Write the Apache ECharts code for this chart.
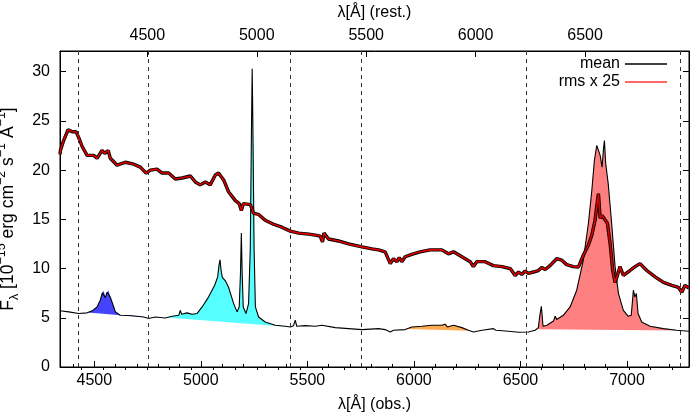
<!DOCTYPE html>
<html><head><meta charset="utf-8">
<script src="https://cdn.jsdelivr.net/npm/echarts@6/dist/echarts.min.js"></script>
<style>html,body{margin:0;padding:0;background:#fff}#c{width:692px;height:417px}</style>
</head><body><div id="c"></div>
<script>
// ---- data ----
const meanWave = [4339,4341,4380,4427,4466,4490,4513,4528,4538,4544,4552,4560,4567,4575,4583,4599,4622,4677,4732,4755,4786,4833,4865,4896,4904,4910,4915,4935,4959,4982,5006,5036,5065,5079,5085,5090,5095,5101,5115,5130,5154,5170,5180,5186,5190,5194,5199,5212,5224,5232,5238,5241,5244,5250,5256,5271,5302,5349,5396,5420,5435,5443,5450,5490,5537,5568,5575,5631,5693,5756,5834,5865,5889,5904,5959,5990,6037,6084,6131,6145,6151,6157,6186,6225,6256,6279,6320,6373,6385,6444,6491,6537,6569,6584,6590,6598,6606,6624,6655,6663,6670,6701,6733,6764,6795,6819,6835,6847,6858,6866,6874,6883,6889,6894,6900,6912,6928,6944,6960,6983,7006,7020,7030,7037,7044,7052,7069,7108,7171,7233,7291];
const meanFlux = [5.72,5.70,5.60,5.43,5.50,5.70,6.10,6.78,7.55,7.75,7.05,7.60,7.75,7.10,6.60,5.60,5.25,5.20,5.08,4.92,5.08,4.98,5.15,5.25,5.76,5.35,5.32,5.50,5.36,5.43,6.10,7.10,8.30,9.15,10.3,10.9,9.8,9.10,8.75,8.10,6.44,5.60,6.10,9.5,13.6,9.5,6.1,5.43,6.44,12.0,25.0,30.3,25.0,11.9,6.1,5.08,4.57,4.24,4.14,4.07,4.20,4.75,4.14,4.20,4.14,4.24,4.07,4.00,3.90,3.80,3.90,3.80,3.56,3.73,3.80,4.07,4.14,4.24,4.24,4.35,4.47,4.07,4.24,4.00,3.73,3.56,3.73,3.90,3.73,3.63,3.53,3.56,3.73,4.0,5.1,6.17,4.14,4.24,4.67,5.15,4.82,5.25,6.10,7.80,10.85,14.6,17.96,21.0,22.5,22.0,21.5,20.3,22.0,23.0,20.7,18.6,14.6,10.2,7.46,5.76,5.15,5.25,7.80,7.10,7.46,5.43,4.57,4.14,3.90,3.73,3.63];
const rmsWave = [4339,4341,4356,4377,4396,4414,4427,4443,4466,4497,4513,4536,4549,4565,4575,4607,4646,4685,4716,4743,4763,4794,4818,4849,4880,4912,4951,4974,4997,5021,5044,5068,5083,5107,5130,5162,5180,5190,5200,5209,5232,5248,5271,5302,5341,5380,5420,5459,5506,5537,5560,5571,5578,5599,5646,5693,5756,5803,5834,5865,5889,5904,5920,5931,5943,5959,5990,6029,6076,6131,6162,6186,6225,6264,6279,6295,6334,6373,6413,6452,6475,6491,6506,6522,6537,6561,6584,6600,6616,6639,6670,6694,6717,6748,6772,6795,6819,6835,6850,6858,6866,6874,6882,6892,6908,6921,6933,6944,6955,6967,6983,7014,7038,7061,7093,7132,7171,7210,7241,7257,7272,7291];
const rmsFlux = [21.6,22.0,23.0,24.1,23.9,23.9,23.3,22.4,21.5,21.5,21.2,22.0,21.7,22.0,21.2,20.5,20.8,20.6,20.3,19.7,20.0,20.1,19.7,19.7,19.1,19.2,19.4,18.8,18.5,18.8,18.5,19.5,19.7,19.0,17.8,16.9,16.6,15.9,16.6,16.6,16.5,15.6,15.5,14.9,14.5,14.2,13.8,13.6,13.5,13.4,13.3,12.7,13.6,13.0,12.8,12.5,12.2,12.0,11.9,11.7,10.5,11.0,10.7,11.1,10.7,11.2,11.45,11.7,11.9,11.9,11.5,11.7,11.2,10.7,10.2,10.7,10.7,10.3,10.2,10.0,9.3,9.65,9.4,9.75,9.5,9.65,9.8,10.1,9.9,10.3,11.0,10.85,10.4,10.2,10.15,11.35,12.4,13.4,14.9,16.3,17.6,15.1,15.4,15.1,14.6,12.5,9.8,8.6,9.3,10.2,9.3,9.8,10.2,10.5,9.8,9.15,8.6,8.3,8.1,7.6,8.3,8.0];
const markerWaves = [4424, 4755, 5420, 5755, 6529, 7251];
const fillStarts = [4470, 4840, 5965, 6575];
const fillEnds = [4735, 5420, 6262, 7250];
const obsTicks = [4500, 5000, 5500, 6000, 6500, 7000];
const restTicks = [4500, 5000, 5500, 6000, 6500];
const fluxTicks = [0, 5, 10, 15, 20, 25, 30];

// ---- ranges / styles ----
const OBS_MIN = 4339, OBS_MAX = 7291, REST_MIN = 4101, REST_MAX = 6975, Y_MAX = 32.1;
const fillColors = ['#4444ff', '#55ffff', '#ffaa55', '#ff8080'];
const FS = 16, FONT = 'Liberation Sans, Arial, sans-serif';

function minorList(lo, hi, step) { const a = []; for (let v = Math.ceil(lo / step) * step; v <= hi; v += step) a.push(v); return a; }
const obsMinor = minorList(OBS_MIN, OBS_MAX, 100);
const restMinor = minorList(REST_MIN, REST_MAX, 100);

const meanData = meanWave.map((w, i) => [w, meanFlux[i]]);
const rmsData = rmsWave.map((w, i) => [w, rmsFlux[i]]);

function interpMean(x) {
  for (let i = 1; i < meanWave.length; i++) {
    if (meanWave[i] >= x) {
      const t = (x - meanWave[i - 1]) / (meanWave[i] - meanWave[i - 1]);
      return meanFlux[i - 1] + t * (meanFlux[i] - meanFlux[i - 1]);
    }
  }
  return meanFlux[meanFlux.length - 1];
}
function regionPoints(i) {
  const s = fillStarts[i], e = fillEnds[i];
  const pts = [[s, interpMean(s)]];
  meanData.forEach(p => { if (p[0] > s && p[0] < e) pts.push(p); });
  pts.push([e, interpMean(e)]);
  return pts;
}

const txt = { color: '#000', fontSize: FS, fontFamily: FONT };
function axisBase(extra) {
  return Object.assign({
    type: 'value', splitLine: { show: false },
    axisLine: { show: true, onZero: false, lineStyle: { color: '#000', width: 1 } },
  }, extra);
}

const chart = echarts.init(document.getElementById('c'), null, { renderer: 'canvas' });
chart.setOption({
  animation: false,
  backgroundColor: '#fff',
  textStyle: { fontFamily: FONT },
  grid: { left: 60, right: 3, top: 51, bottom: 50, containLabel: false, outerBoundsMode: 'none',
          show: true, borderColor: '#000', borderWidth: 1 },
  legend: {
    orient: 'vertical', right: 20, top: 51, align: 'right', itemWidth: 42, itemHeight: 1.3, itemGap: 2,
    icon: 'rect', textStyle: Object.assign({}, txt, { lineHeight: 15 }), selectedMode: false,
    data: [{ name: 'mean', itemStyle: { color: '#000' } }, { name: 'rms x 25', itemStyle: { color: '#ff3333' } }]
  },
  xAxis: [
    axisBase({ position: 'bottom', min: OBS_MIN, max: OBS_MAX,
      axisTick: { show: true, inside: true, length: 6, customValues: obsTicks, lineStyle: { color: '#000' } },
      axisLabel: Object.assign({}, txt, { customValues: obsTicks, margin: 6, formatter: v => String(v) }),
      name: 'λ[Å] (obs.)', nameLocation: 'middle', nameGap: 30, nameTextStyle: txt }),
    axisBase({ position: 'top', min: REST_MIN, max: REST_MAX,
      axisTick: { show: true, inside: true, length: 6, customValues: restTicks, lineStyle: { color: '#000' } },
      axisLabel: Object.assign({}, txt, { customValues: restTicks, margin: 7, formatter: v => String(v) }),
      name: 'λ[Å] (rest.)', nameLocation: 'middle', nameGap: 30, nameTextStyle: txt }),
    axisBase({ position: 'bottom', min: OBS_MIN, max: OBS_MAX, axisLine: { show: false },
      axisTick: { show: true, inside: true, length: 3, customValues: obsMinor, lineStyle: { color: '#000' } },
      axisLabel: { show: false } }),
    axisBase({ position: 'top', min: REST_MIN, max: REST_MAX, axisLine: { show: false },
      axisTick: { show: true, inside: true, length: 3, customValues: restMinor, lineStyle: { color: '#000' } },
      axisLabel: { show: false } })
  ],
  yAxis: [
    axisBase({ position: 'left', min: 0, max: Y_MAX,
      axisTick: { show: true, inside: true, length: 6, customValues: fluxTicks, lineStyle: { color: '#000' } },
      axisLabel: Object.assign({}, txt, { customValues: fluxTicks, margin: 10, formatter: v => String(v) }),
      name: '{n|F}{sb|λ}{n| [10}{sp|−15}{n| erg cm}{sp|−2}{n| s}{sp|−1}{n| Å}{sp|−1}{n|]}',
      nameLocation: 'middle', nameGap: 24, nameRotate: 90,
      nameTextStyle: { color: '#000', fontSize: 17.5, fontFamily: FONT, rich: {
        n: { fontSize: 17.5, fontFamily: FONT, color: '#000', lineHeight: 26, verticalAlign: 'middle' },
        sp: { fontSize: 12.5, fontFamily: FONT, color: '#000', lineHeight: 11, verticalAlign: 'top' },
        sb: { fontSize: 12.5, fontFamily: FONT, color: '#000', lineHeight: 18, verticalAlign: 'bottom' }
      } } }),
    axisBase({ position: 'right', min: 0, max: Y_MAX,
      axisTick: { show: true, inside: true, length: 6, customValues: fluxTicks, lineStyle: { color: '#000' } },
      axisLabel: { show: false } })
  ],
  series: [
    { type: 'custom', name: 'fills', xAxisIndex: 0, yAxisIndex: 0, silent: true, clip: true, z: 1,
      data: fillStarts.map((s, i) => [s, 0, i]), encode: { x: 0, y: 1 },
      renderItem: (params, api) => {
        const i = params.dataIndex;
        return { type: 'polygon', shape: { points: regionPoints(i).map(p => api.coord(p)) },
                 style: { fill: fillColors[i], stroke: null } };
      } },
    { type: 'line', name: 'mean', data: meanData, showSymbol: false, symbol: 'none', z: 3, clip: true,
      lineStyle: { color: '#000', width: 1.1 }, itemStyle: { color: '#000' },
      markLine: { silent: true, symbol: 'none', label: { show: false },
        lineStyle: { color: '#333', width: 1, type: [4, 4] },
        data: markerWaves.map(w => ({ xAxis: w })) } },
    { type: 'line', name: 'rmsOutline', data: rmsData, showSymbol: false, symbol: 'none', z: 4, clip: true,
      lineStyle: { color: '#000', width: 3.4 }, itemStyle: { color: '#000' } },
    { type: 'line', name: 'rms x 25', data: rmsData, showSymbol: false, symbol: 'none', z: 5, clip: true,
      lineStyle: { color: '#e00000', width: 1.6 }, itemStyle: { color: '#e00000' } }
  ]
});
</script></body></html>
